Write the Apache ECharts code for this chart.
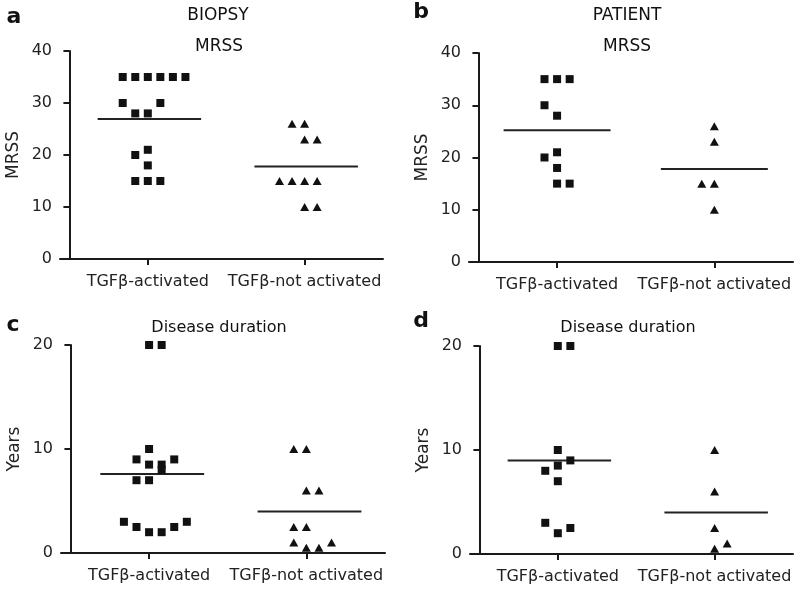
<!DOCTYPE html>
<html>
<head>
<meta charset="utf-8">
<script src="https://cdn.jsdelivr.net/npm/echarts@6/dist/echarts.min.js"></script>
<style>html,body{margin:0;padding:0;background:#fff}#c{width:800px;height:594px}</style>
</head>
<body>
<div id="c"></div>
<script>
// ---- data ----
const categories = ['TGFβ-activated', 'TGFβ-not activated'];
const catPos = [0.5, 1.5];

// a: BIOPSY, MRSS
const aActVals  = [35,35,35,35,35,35,30,30,28,28,21,20,18,15,15,15];
const aActSlots = [-2,-1,0,1,2,3,-2,1,-1,0,0,-1,0,-1,0,1];
const aNotVals  = [26,26,23,23,15,15,15,15,10,10];
const aNotSlots = [-1,0,0,1,-2,-1,0,1,0,1];
const aMeans    = [26.9, 17.8];

// b: PATIENT, MRSS
const bActVals  = [35,35,35,30,28,21,20,18,15,15];
const bActSlots = [-1,0,1,-1,0,0,-1,0,0,1];
const bNotVals  = [26,23,15,15,10];
const bNotSlots = [0,0,-1,0,0];
const bMeans    = [25.2, 17.8];

// c: BIOPSY, disease duration
const cActVals  = [20,20,10,9,9,8.5,8.5,8,7,7,3,3,2.5,2.5,2,2];
const cActSlots = [0,1,0,-1,2,0,1,1,-1,0,-2,3,-1,2,0,1];
const cNotVals  = [10,10,6,6,2.5,2.5,1,1,0.5,0.5];
const cNotSlots = [-1,0,0,1,-1,0,-1,2,0,1];
const cMeans    = [7.6, 4.0];

// d: PATIENT, disease duration
const dActVals  = [20,20,10,9,8.5,8,7,3,2.5,2];
const dActSlots = [0,1,0,1,0,-1,0,-1,1,0];
const dNotVals  = [10,6,2.5,1,0.5];
const dNotSlots = [0,0,0,1,0];
const dMeans    = [9.0, 4.0];

const yTicksMRSS = [0,10,20,30,40];
const yTicksYears = [0,10,20];

// ---- styling / layout ----
const FONT = 'DejaVu Sans';
const INK = '#1a1a1a';
const SLOT = 0.08;

const panels = [
  {grid:{left:60, top:51, width:323, height:208}, vals:[aActVals,aNotVals], slots:[aActSlots,aNotSlots], means:aMeans, ticks:yTicksMRSS, yName:'MRSS', half:[0.32,0.34]},
  {grid:{left:469, top:53, width:324, height:209}, vals:[bActVals,bNotVals], slots:[bActSlots,bNotSlots], means:bMeans, ticks:yTicksMRSS, yName:'MRSS', half:[0.34,0.34]},
  {grid:{left:61, top:345, width:324, height:208}, vals:[cActVals,cNotVals], slots:[cActSlots,cNotSlots], means:cMeans, ticks:yTicksYears, yName:'Years', half:[0.31,0.35]},
  {grid:{left:470, top:346, width:323, height:208}, vals:[dActVals,dNotVals], slots:[dActSlots,dNotSlots], means:dMeans, ticks:yTicksYears, yName:'Years', half:[0.32,0.34]}
];

const grids = [], xAxes = [], yAxes = [], series = [];
panels.forEach((p, i) => {
  grids.push(p.grid);
  xAxes.push({
    type:'value', gridIndex:i, min:-0.06, max:2,
    axisLine:{show:true, onZero:false, lineStyle:{color:INK, width:2}},
    axisTick:{show:true, customValues:catPos, length:6, lineStyle:{color:INK, width:2}},
    axisLabel:{customValues:catPos, margin:15, color:'#222', fontFamily:FONT, fontSize:16,
      formatter: v => categories[catPos.indexOf(v)] || ''},
    splitLine:{show:false}
  });
  yAxes.push({
    type:'value', gridIndex:i, min:p.ticks[0], max:p.ticks[p.ticks.length-1], interval:10,
    name:p.yName, nameLocation:'middle', nameGap:38, nameRotate:90,
    nameTextStyle:{fontFamily:FONT, fontSize:17, color:'#222'},
    axisLine:{show:true, onZero:true, lineStyle:{color:INK, width:2}},
    axisTick:{show:true, length:6, lineStyle:{color:INK, width:2}},
    axisLabel:{margin:8, color:'#222', fontFamily:FONT, fontSize:16},
    splitLine:{show:false}
  });
  [0,1].forEach(g => {
    const pts = p.vals[g].map((v, k) => [catPos[g] + p.slots[g][k]*SLOT, v]);
    series.push({
      type:'scatter', xAxisIndex:i, yAxisIndex:i, data:pts,
      symbol: g === 0 ? 'rect' : 'triangle',
      symbolSize: g === 0 ? 8 : [9,8],
      itemStyle:{color:'#111', opacity:1}, z:3
    });
    series.push({
      type:'line', xAxisIndex:i, yAxisIndex:i,
      data:[[catPos[g]-p.half[0], p.means[g]], [catPos[g]+p.half[1], p.means[g]]],
      symbol:'none', lineStyle:{color:'#222', width:2}, z:2
    });
  });
});

const txt = (t, x, y, size, bold) => ({type:'text', x, y, style:{text:t, font:(bold?'bold ':'')+size+'px "'+FONT+'"', fill:'#111', textAlign:'center', textVerticalAlign:'middle'}});

const graphics = [
  txt('a', 14, 17, 22, true), txt('b', 421, 12, 22, true),
  txt('c', 13, 325, 22, true), txt('d', 421, 321, 22, true),
  txt('BIOPSY', 218, 16, 17), txt('MRSS', 219, 47, 17),
  txt('PATIENT', 627, 16, 17), txt('MRSS', 627, 47, 17),
  txt('Disease duration', 219, 328, 16), txt('Disease duration', 628, 328, 16)
];

const chart = echarts.init(document.getElementById('c'), null, {renderer:'canvas'});
chart.setOption({
  animation:false,
  backgroundColor:'#fff',
  grid:grids, xAxis:xAxes, yAxis:yAxes, series:series,
  graphic:graphics
});
</script>
</body>
</html>
